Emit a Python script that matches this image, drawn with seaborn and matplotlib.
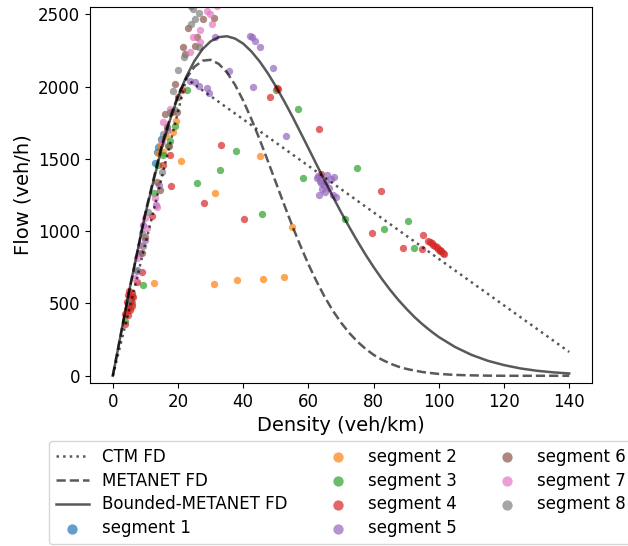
import matplotlib
matplotlib.use("Agg")
import matplotlib.pyplot as plt
import seaborn as sns

# fundamental diagram curves (density veh/km, flow veh/h)
ctm_density = [0, 22.5, 140]
ctm_flow = [0, 2055, 165]

fd_density = [0, 5, 10, 15, 17.5, 20, 22.5, 25, 27.5, 30, 32.5, 35, 37.5, 40, 42.5,
              45, 47.5, 50, 52.5, 55, 57.5, 60, 62.5, 65, 67.5, 70, 72.5, 75, 77.5,
              80, 82.5, 85, 87.5, 90, 92.5, 95, 97.5, 100, 105, 110, 115, 120, 125,
              130, 135, 140]
metanet_flow = [0, 584, 1130, 1594, 1782, 1937, 2055, 2136, 2179, 2185, 2157, 2098,
                2012, 1903, 1776, 1637, 1489, 1338, 1187, 1040, 902, 771, 653, 545,
                450, 368, 297, 237, 187, 145, 112, 85, 64, 48, 36, 26, 19, 13, 6, 3,
                1, 0, 0, 0, 0, 0]
bounded_flow = [0, 585, 1121, 1576, 1766, 1930, 2067, 2176, 2258, 2313, 2342, 2348,
                2332, 2297, 2243, 2175, 2094, 2002, 1902, 1797, 1686, 1574, 1461,
                1349, 1239, 1132, 1030, 932, 839, 752, 671, 596, 527, 465, 407, 356,
                310, 268, 199, 145, 104, 74, 51, 35, 24, 16]

# observed points per segment
seg1_density = [13.5, 13.9, 12.9, 14.8]
seg1_flow = [1548, 1580, 1470, 1640]

seg2_density = [18.6, 14.5, 15.5, 4.3, 5.3, 16.2, 14.0, 19.4, 5.0,
                20.9, 45.2, 31.3, 55.1, 12.7, 30.9, 38.1, 46.0, 52.5]
seg2_flow = [1686, 1594, 1548, 447, 471, 1660, 1540, 1760, 520,
             1486, 1519, 1264, 1032, 643, 638, 665, 672, 686]

seg3_density = [19.1, 17.6, 15.3, 14.0, 12.7, 5.8, 5.8, 3.8, 22.7, 16.8, 9.4,
                25.9, 32.8, 37.7, 45.7, 50.1, 56.9, 58.3, 74.9, 71.2, 90.6, 83.2,
                92.3, 100.4]
seg3_flow = [1725, 1624, 1525, 1457, 1262, 550, 505, 378, 1973, 1590, 631,
             1335, 1422, 1553, 1120, 1977, 1847, 1365, 1436, 1087, 1069, 1014,
             883, 860]

seg4_density = [17.4, 15.5, 12.1, 8.9, 7.4, 18.1, 21.2,
                4.8, 5.1, 5.5, 4.9, 5.6, 6.0, 5.2, 4.6, 5.9, 6.3, 3.8, 4.8, 3.8, 4.3,
                17.8, 28.0, 33.2, 40.3, 48.2, 50.3, 50.8, 63.3, 63.8, 82.2, 79.5,
                95.2, 88.9, 94.8,
                96.8, 97.3, 97.8, 98.3, 98.8, 99.3, 99.8, 100.3, 100.8, 101.3, 101.6]
seg4_flow = [1525, 1457, 1106, 716, 647, 1823, 1973,
             560, 585, 540, 500, 520, 480, 455, 470, 575, 545, 424, 418, 356, 510,
             1314, 1197, 1594, 1087, 1927, 1991, 1984, 1707, 1395, 1276, 989,
             973, 886, 874,
             929, 922, 915, 905, 898, 890, 880, 872, 860, 850, 840]

seg5_density = [31.4, 42.1, 42.6, 43.6, 45.2, 35.7, 49.2, 43.1, 23.7, 25.2, 26.3,
                28.8, 29.6, 53.0,
                14.3, 13.3, 9.4, 9.9, 8.2, 7.4, 16.5,
                62.5, 63.1, 68.0, 63.5, 64.0, 64.8, 65.5, 66.2, 64.3, 65.0, 67.5,
                68.5, 62.8, 66.8, 65.8]
seg5_flow = [2340, 2351, 2344, 2317, 2275, 2110, 2129, 2000, 2042, 2030, 2007,
             1991, 1954, 1656,
             1319, 1181, 1044, 941, 849, 723, 1700,
             1370, 1252, 1374, 1350, 1330, 1320, 1340, 1300, 1290, 1270, 1250,
             1235, 1385, 1360, 1390]

seg6_density = [25.2, 27.8, 31.1, 23.2, 25.8, 21.5, 22.2, 19.1, 20.1, 19.6, 16.0,
                16.6, 17.1, 13.5, 14.5, 9.9, 8.9, 24.0, 29.5]
seg6_flow = [2282, 2466, 2477, 2408, 2340, 2271, 2225, 2019, 1927, 1823, 1812,
             1720, 1587, 1342, 1285, 963, 849, 2560, 2590]

seg7_density = [28.8, 29.8, 30.4, 26.8, 24.5, 26.8, 23.7, 17.6, 15.5, 15.0, 13.0,
                13.5, 9.9, 10.4, 8.2, 7.4, 6.8, 30.5, 28.0, 32.0]
seg7_flow = [2523, 2500, 2436, 2390, 2344, 2305, 2236, 1847, 1755, 1617, 1228,
             1170, 1090, 1021, 906, 815, 677, 2570, 2580, 2555]

seg8_density = [24.7, 26.3, 25.2, 23.9, 26.3, 21.9, 20.1, 18.6, 19.1, 17.6, 15.5,
                15.0, 10.9, 8.9, 9.4, 7.5, 4.8, 25.5, 27.0]
seg8_flow = [2535, 2512, 2466, 2436, 2271, 2207, 2115, 1968, 1835, 1823, 1675,
             1411, 1135, 987, 895, 734, 516, 2570, 2600]

segments = [
    (seg1_density, seg1_flow), (seg2_density, seg2_flow),
    (seg3_density, seg3_flow), (seg4_density, seg4_flow),
    (seg5_density, seg5_flow), (seg6_density, seg6_flow),
    (seg7_density, seg7_flow), (seg8_density, seg8_flow),
]

palette = sns.color_palette("tab10")

fig = plt.figure(figsize=(6.28, 5.46), dpi=100)
ax = fig.add_axes([0.1433, 0.2985, 0.7994, 0.6886])

sns.lineplot(x=ctm_density, y=ctm_flow, ax=ax, color="k", alpha=0.65,
             linestyle=":", linewidth=1.8, label="CTM FD")
sns.lineplot(x=fd_density, y=metanet_flow, ax=ax, color="k", alpha=0.65,
             linestyle="--", linewidth=1.8, label="METANET FD")
sns.lineplot(x=fd_density, y=bounded_flow, ax=ax, color="k", alpha=0.65,
             linestyle="-", linewidth=1.8, label="Bounded-METANET FD")

for i, (dens, flow) in enumerate(segments):
    sns.scatterplot(x=dens, y=flow, ax=ax, color=palette[i], s=28, alpha=0.7,
                    linewidth=0, label=f"segment {i + 1}")

ax.set_xlim(-7, 147)
ax.set_ylim(-50, 2550)
ax.set_xticks(range(0, 141, 20))
ax.set_yticks(range(0, 2501, 500))
ax.tick_params(labelsize=12)
ax.set_xlabel("Density (veh/km)", fontsize=14)
ax.set_ylabel("Flow (veh/h)", fontsize=14)

handles, labels = ax.get_legend_handles_labels()
ax.get_legend().remove()
fig.legend(handles, labels, loc="upper left", bbox_to_anchor=(49 / 628, 1 - 441 / 546),
           borderaxespad=0, ncol=3, fontsize=12, markerscale=1.4, labelspacing=0.35)

fig.savefig("out.png", dpi=100)
